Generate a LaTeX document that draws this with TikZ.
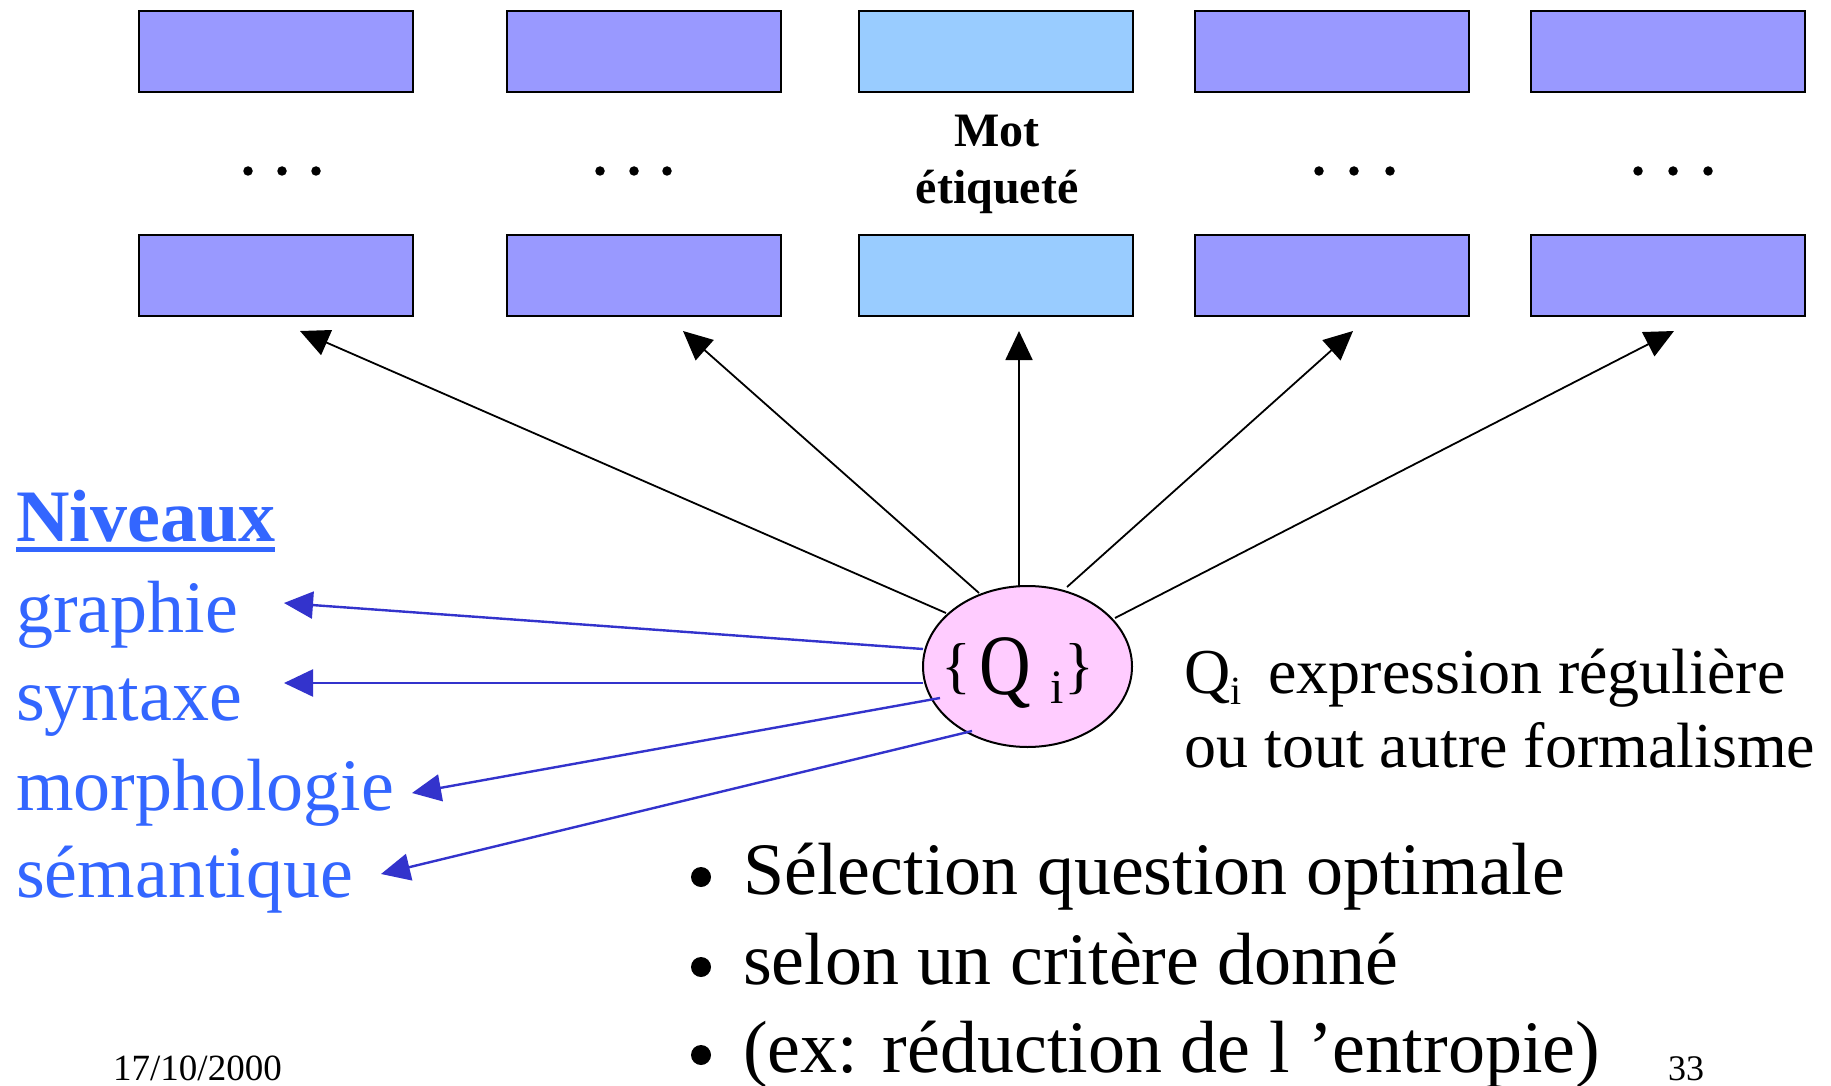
\documentclass[tikz,border=0pt]{standalone}
\usepackage{fontspec}
\usepackage{graphicx}
\setmainfont{Liberation Serif}
\usetikzlibrary{shapes.geometric,arrows.meta,calc}

\definecolor{cellblue}{HTML}{9999FF}
\definecolor{cellcyan}{HTML}{99CCFF}
\definecolor{qpink}{HTML}{FFCCFF}
\definecolor{levelblue}{HTML}{3366FF}
\definecolor{linkblue}{HTML}{3333CC}

\newcommand{\fsz}[1]{\fontsize{#1}{#1}\selectfont}

\begin{document}
\begin{tikzpicture}[x=1pt,y=-1pt,
  cell/.style={draw=black, line width=2.2pt, fill=cellblue,
    minimum width=274pt, minimum height=81pt, inner sep=0pt},
  tagged/.style={cell, fill=cellcyan},
  dotmark/.style={fill=black, circle, inner sep=0pt, minimum size=9.5pt},
  bulletmark/.style={fill=black, circle, inner sep=0pt, minimum size=20pt},
  question/.style={ellipse, draw=black, line width=2pt, fill=qpink,
    minimum width=209pt, minimum height=161pt, inner sep=0pt},
  up/.style={draw=black, line width=1.8pt,
    -{Triangle[length=29pt,width=27pt]}},
  level/.style={draw=linkblue, line width=2.4pt,
    -{Triangle[length=29pt,width=27pt]}},
  leveltext/.style={anchor=base west, inner sep=0pt, text=levelblue,
    font=\fsz{74}},
  plain/.style={anchor=base west, inner sep=0pt, font=\fsz{74}}]

\useasboundingbox (0,0) rectangle (1831,1086);

% two rows of word cells
\foreach \i/\cx in {1/276,2/644,4/1332,5/1668}{
  \node[cell] (t\i) at (\cx,51.5) {};
  \node[cell] (b\i) at (\cx,275.5) {};
}
\node[tagged] (t3) at (996,51.5) {};
\node[tagged] (b3) at (996,275.5) {};

% ellipsis marks between the rows
\foreach \x in {248,282,316,600,634,667,1319,1354,1390,1638,1673,1708}
  \node[dotmark] at (\x,171) {};

\node[anchor=base, inner sep=0pt, font=\fsz{48}\bfseries] (mot) at (997,147) {Mot};
\node[anchor=base, inner sep=0pt, font=\fsz{48}\bfseries] (etq) at (997,204) {étiqueté};

% the question set
\node[question] (q) at (1027.5,666.5) {};
\node[anchor=base west, inner sep=0pt] (qlab) at (941,694)
  {\raisebox{8pt}{\fsz{62}\{}\hspace{9pt}\scalebox{0.83}[1]{\fsz{86}Q}\hspace{19pt}\raisebox{-9pt}{\fsz{48}i}\hspace{1pt}\raisebox{8pt}{\fsz{62}\}}};

% arrow targets below the cells
\coordinate (a1) at (300,331);
\coordinate (a2) at (683,331);
\coordinate (a3) at (1019,331);
\coordinate (a4) at (1353,331);
\coordinate (a5) at (1674,331);

\draw[up] ($(q.center)+(-81.5,-53.5)$) -- (a1);
\draw[up] ($(q.center)+(-48.5,-73.5)$) -- (a2);
\draw[up] ($(q.center)+(-8.5,-80.5)$) -- (a3);
\draw[up] ($(q.center)+(39.5,-79.5)$) -- (a4);
\draw[up] ($(q.center)+(87.5,-48.5)$) -- (a5);

% levels
\node[leveltext, font=\fsz{74}\bfseries] (niv) at (16,541) {Niveaux};
\fill[levelblue] ($(niv.base west)+(0,6)$) rectangle ($(niv.base east)+(0,11)$);
\node[leveltext] (graphie) at (16,632) {graphie};
\node[leveltext] (syntaxe) at (16,720) {syntaxe};
\node[leveltext] (morpho) at (16,810) {morphologie};
\node[leveltext] (seman) at (16,897) {sémantique};

\coordinate (lg) at (284,603);
\coordinate (ls) at (284,683);
\coordinate (lm) at (412,793);
\coordinate (le) at (381,874);

\draw[level] ($(q.center)+(-104.5,-17.5)$) -- (lg);
\draw[level] ($(q.center)+(-104.5,16.5)$) -- (ls);
\draw[level] ($(q.center)+(-87.5,31.5)$) -- (lm);
\draw[level] ($(q.center)+(-55.5,64.5)$) -- (le);

% definition of Q_i
\node[plain, font=\fsz{64}] (def1) at (1184,693)
  {Q\raisebox{-11pt}{\fsz{40}i}\hspace{27pt}expression régulière};
\node[plain, font=\fsz{64}] (def2) at (1184,767) {ou tout autre formalisme};

% bullet list
\foreach \n/\y/\t in {s1/894/Sélection question optimale,
                      s2/984/selon un critère donné,
                      s3/1072/(ex: réduction de l ’entropie)}{
  \node[bulletmark] at (701,\y-17) {};
  \node[plain] (\n) at (743,\y) {\t};
}

% footer
\node[anchor=base west, inner sep=0pt, font=\fsz{37}] (date) at (113,1080) {17/10/2000};
\node[anchor=base west, inner sep=0pt, font=\fsz{36}] (page) at (1668,1080) {33};
\end{tikzpicture}
\end{document}
